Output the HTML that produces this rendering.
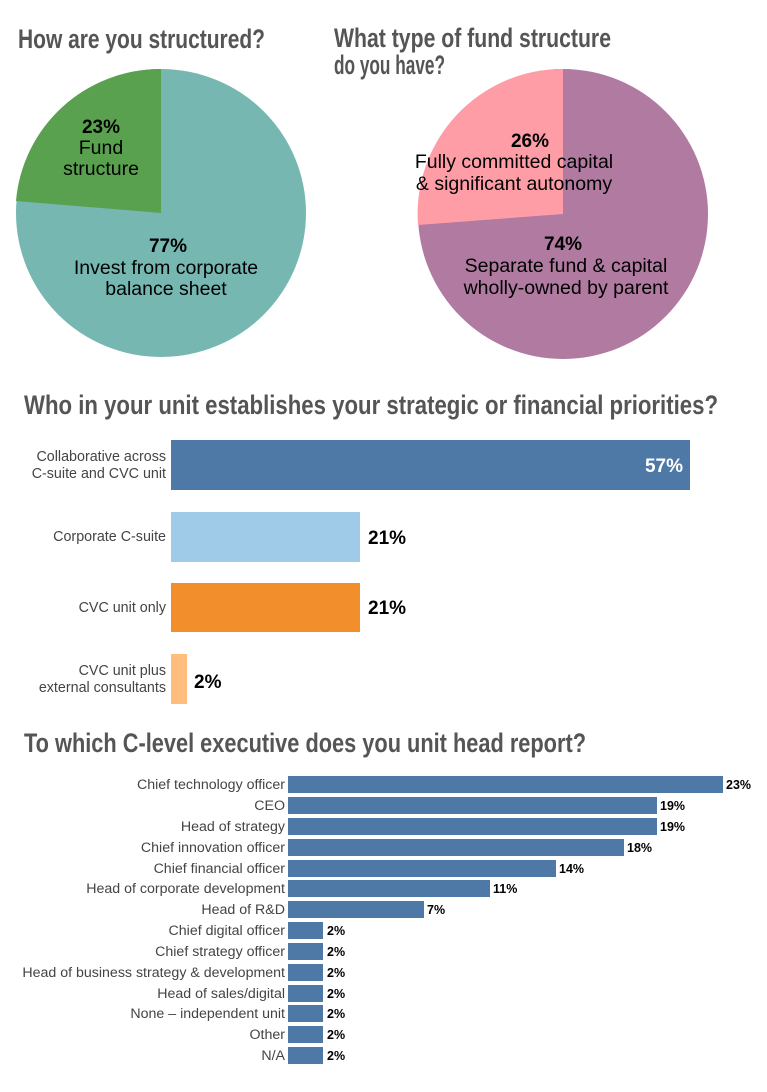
<!DOCTYPE html>
<html><head><meta charset="utf-8"><style>
html,body{margin:0;padding:0;background:#fff;}
svg{display:block;font-family:"Liberation Sans",sans-serif;}
.t{font-weight:bold;fill:#555;font-size:27px;}
.p{font-size:19.5px;fill:#000;text-anchor:middle;}
.pb{font-size:19px;font-weight:bold;fill:#000;text-anchor:middle;}
.l1{font-size:14.3px;fill:#444;text-anchor:end;}
.l2{font-size:14.2px;fill:#444;text-anchor:end;}
.v2{font-size:12.5px;font-weight:bold;fill:#000;}
</style></head><body>
<svg width="767" height="1092" viewBox="0 0 767 1092">
<text class="t" x="18" y="48" textLength="247" lengthAdjust="spacingAndGlyphs">How are you structured?</text>
<text class="t" x="334" y="47" textLength="277" lengthAdjust="spacingAndGlyphs">What type of fund structure</text>
<text class="t" x="334" y="74" textLength="111" lengthAdjust="spacingAndGlyphs">do you have?</text>

<ellipse cx="161" cy="213" rx="145" ry="144" fill="#76b7b2"/>
<path d="M161 213 L161 69 A145 144 0 0 0 16 201 Z" fill="#59a14f"/>
<text class="pb" x="101" y="133">23%</text>
<text class="p" x="101" y="154">Fund</text>
<text class="p" x="101" y="175">structure</text>
<text class="pb" x="168" y="252">77%</text>
<text class="p" x="166" y="274">Invest from corporate</text>
<text class="p" x="166" y="295">balance sheet</text>

<ellipse cx="563" cy="214" rx="145" ry="145" fill="#b07aa1"/>
<path d="M563 214 L563 69 A145 145 0 0 0 418 225 Z" fill="#ff9da7"/>
<text class="pb" x="530" y="147">26%</text>
<text class="p" x="514" y="168">Fully committed capital</text>
<text class="p" x="514" y="190">&amp; significant autonomy</text>
<text class="pb" x="563" y="250">74%</text>
<text class="p" x="566" y="272">Separate fund &amp; capital</text>
<text class="p" x="566" y="294">wholly-owned by parent</text>

<text class="t" x="24" y="414" textLength="694" lengthAdjust="spacingAndGlyphs">Who in your unit establishes your strategic or financial priorities?</text>
<rect x="171" y="440" width="519" height="50" fill="#4e79a7"/>
<rect x="171" y="512" width="189" height="50" fill="#a0cbe8"/>
<rect x="171" y="583" width="189" height="49" fill="#f28e2b"/>
<rect x="171" y="654" width="16" height="50" fill="#ffbe7d"/>
<text class="l1" x="166" y="461">Collaborative across</text>
<text class="l1" x="166" y="478">C-suite and CVC unit</text>
<text class="l1" x="166" y="541">Corporate C-suite</text>
<text class="l1" x="166" y="612">CVC unit only</text>
<text class="l1" x="166" y="675">CVC unit plus</text>
<text class="l1" x="166" y="692">external consultants</text>
<text x="683" y="472" style="font-size:19px;font-weight:bold;fill:#fff;text-anchor:end">57%</text>
<text x="368" y="544" style="font-size:19px;font-weight:bold;fill:#000">21%</text>
<text x="368" y="614" style="font-size:19px;font-weight:bold;fill:#000">21%</text>
<text x="194" y="688" style="font-size:19px;font-weight:bold;fill:#000">2%</text>

<text class="t" x="24" y="752" textLength="562" lengthAdjust="spacingAndGlyphs">To which C-level executive does you unit head report?</text>
<g fill="#4e79a7">
<rect x="288" y="776" width="435" height="17"/>
<rect x="288" y="797" width="369" height="17"/>
<rect x="288" y="818" width="369" height="17"/>
<rect x="288" y="839" width="336" height="17"/>
<rect x="288" y="860" width="268" height="17"/>
<rect x="288" y="880" width="202" height="17"/>
<rect x="288" y="901" width="136" height="17"/>
<rect x="288" y="922" width="35" height="17"/>
<rect x="288" y="943" width="35" height="17"/>
<rect x="288" y="964" width="35" height="17"/>
<rect x="288" y="985" width="35" height="17"/>
<rect x="288" y="1005" width="35" height="17"/>
<rect x="288" y="1026" width="35" height="17"/>
<rect x="288" y="1047" width="35" height="17"/>
</g>
<text class="l2" x="285" y="789">Chief technology officer</text>
<text class="l2" x="285" y="810">CEO</text>
<text class="l2" x="285" y="831">Head of strategy</text>
<text class="l2" x="285" y="852">Chief innovation officer</text>
<text class="l2" x="285" y="873">Chief financial officer</text>
<text class="l2" x="285" y="893">Head of corporate development</text>
<text class="l2" x="285" y="914">Head of R&amp;D</text>
<text class="l2" x="285" y="935">Chief digital officer</text>
<text class="l2" x="285" y="956">Chief strategy officer</text>
<text class="l2" x="285" y="977">Head of business strategy &amp; development</text>
<text class="l2" x="285" y="998">Head of sales/digital</text>
<text class="l2" x="285" y="1018">None – independent unit</text>
<text class="l2" x="285" y="1039">Other</text>
<text class="l2" x="285" y="1060">N/A</text>
<text class="v2" x="726" y="789">23%</text>
<text class="v2" x="660" y="810">19%</text>
<text class="v2" x="660" y="831">19%</text>
<text class="v2" x="627" y="852">18%</text>
<text class="v2" x="559" y="873">14%</text>
<text class="v2" x="493" y="893">11%</text>
<text class="v2" x="427" y="914">7%</text>
<text class="v2" x="327" y="935">2%</text>
<text class="v2" x="327" y="956">2%</text>
<text class="v2" x="327" y="977">2%</text>
<text class="v2" x="327" y="998">2%</text>
<text class="v2" x="327" y="1018">2%</text>
<text class="v2" x="327" y="1039">2%</text>
<text class="v2" x="327" y="1060">2%</text>
</svg>
</body></html>
